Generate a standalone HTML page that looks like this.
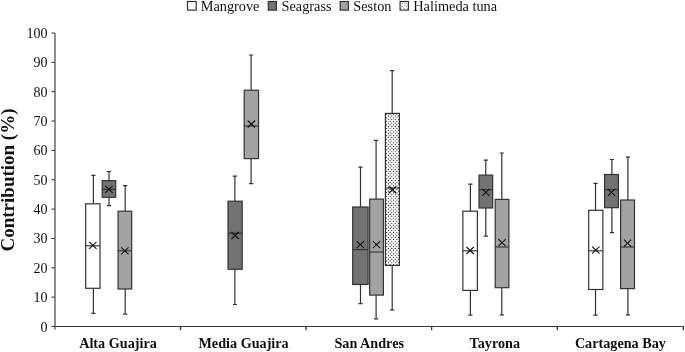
<!DOCTYPE html>
<html><head><meta charset="utf-8"><title>Contribution</title>
<style>
html,body{margin:0;padding:0;background:#fff;}
body{width:685px;height:352px;overflow:hidden;font-family:"Liberation Serif",serif;}
svg{display:block}
text{font-family:"Liberation Serif",serif;fill:#111}
.tick{font-size:14px;text-anchor:end}
.cat{font-size:14.2px;font-weight:bold;text-anchor:middle}
.leg{font-size:14.3px}
.yl{font-size:19px;font-weight:bold;text-anchor:middle}
</style></head><body>
<svg width="685" height="352" viewBox="0 0 685 352">
<rect width="685" height="352" fill="#fff"/>

<g stroke="#444" stroke-width="1.2" fill="none">
<path d="M55 33V329.5"/>
<path d="M51.4 326.5H683.9" stroke="#3a3a3a" stroke-width="1.1"/>
<path d="M51.4 297.15H55" stroke="#333" stroke-width="1"/>
<path d="M51.4 267.80H55" stroke="#333" stroke-width="1"/>
<path d="M51.4 238.45H55" stroke="#333" stroke-width="1"/>
<path d="M51.4 209.10H55" stroke="#333" stroke-width="1"/>
<path d="M51.4 179.75H55" stroke="#333" stroke-width="1"/>
<path d="M51.4 150.40H55" stroke="#333" stroke-width="1"/>
<path d="M51.4 121.05H55" stroke="#333" stroke-width="1"/>
<path d="M51.4 91.70H55" stroke="#333" stroke-width="1"/>
<path d="M51.4 62.35H55" stroke="#333" stroke-width="1"/>
<path d="M51.4 33.00H55" stroke="#333" stroke-width="1"/>
<path d="M180.5 326.5V330.2" stroke="#333" stroke-width="1.3"/>
<path d="M306.0 326.5V330.2" stroke="#333" stroke-width="1.3"/>
<path d="M431.6 326.5V330.2" stroke="#333" stroke-width="1.3"/>
<path d="M557.3 326.5V330.2" stroke="#333" stroke-width="1.3"/>
<path d="M683.3 326.5V330.2" stroke="#333" stroke-width="1.3"/>
</g>
<text class="tick" x="47.6" y="331.50">0</text>
<text class="tick" x="47.6" y="302.15">10</text>
<text class="tick" x="47.6" y="272.80">20</text>
<text class="tick" x="47.6" y="243.45">30</text>
<text class="tick" x="47.6" y="214.10">40</text>
<text class="tick" x="47.6" y="184.75">50</text>
<text class="tick" x="47.6" y="155.40">60</text>
<text class="tick" x="47.6" y="126.05">70</text>
<text class="tick" x="47.6" y="96.70">80</text>
<text class="tick" x="47.6" y="67.35">90</text>
<text class="tick" x="47.6" y="38.00">100</text>
<text class="cat" x="118.0" y="348">Alta Guajira</text>
<text class="cat" x="243.6" y="348">Media Guajira</text>
<text class="cat" x="369.2" y="348">San Andres</text>
<text class="cat" x="494.8" y="348">Tayrona</text>
<text class="cat" x="620.4" y="348">Cartagena Bay</text>
<text class="yl" transform="translate(13.7,180) rotate(-90)">Contribution (%)</text>
<rect x="187.50" y="1.50" width="8.70" height="8.60" fill="#ffffff" stroke="#333" stroke-width="1.2"/>
<text class="leg" x="200.7" y="11">Mangrove</text>
<rect x="268.30" y="1.50" width="8.15" height="8.60" fill="#727272" stroke="#333" stroke-width="1.2"/>
<text class="leg" x="281.5" y="11">Seagrass</text>
<rect x="340.20" y="1.50" width="8.25" height="8.60" fill="#a3a3a3" stroke="#333" stroke-width="1.2"/>
<text class="leg" x="353.3" y="11">Seston</text>
<rect x="400.10" y="1.50" width="8.35" height="8.60" fill="#ffffff" stroke="#333" stroke-width="1.2"/>
<path d="M401.94 3.39a0.5 0.5 0 1 0 1.0 0a0.5 0.5 0 1 0 -1.0 0zM405.61 3.39a0.5 0.5 0 1 0 1.0 0a0.5 0.5 0 1 0 -1.0 0zM403.78 5.11a0.5 0.5 0 1 0 1.0 0a0.5 0.5 0 1 0 -1.0 0zM401.94 6.83a0.5 0.5 0 1 0 1.0 0a0.5 0.5 0 1 0 -1.0 0zM405.61 6.83a0.5 0.5 0 1 0 1.0 0a0.5 0.5 0 1 0 -1.0 0zM403.78 8.55a0.5 0.5 0 1 0 1.0 0a0.5 0.5 0 1 0 -1.0 0zM403.78 1.93a0.5 0.5 0 1 0 1.0 0a0.5 0.5 0 1 0 -1.0 0zM400.27 5.11a0.5 0.5 0 1 0 1.0 0a0.5 0.5 0 1 0 -1.0 0zM407.28 5.11a0.5 0.5 0 1 0 1.0 0a0.5 0.5 0 1 0 -1.0 0zM400.27 8.55a0.5 0.5 0 1 0 1.0 0a0.5 0.5 0 1 0 -1.0 0zM407.28 8.55a0.5 0.5 0 1 0 1.0 0a0.5 0.5 0 1 0 -1.0 0z" fill="#555" stroke="none"/>
<text class="leg" x="413.3" y="11">Halimeda tuna</text>
<g stroke="#333" stroke-width="1.2" fill="none">
<path d="M93.4 175.3V203.8M93.4 288.3V313.3M91.3 175.3h4.2M91.3 313.3h4.2"/>
<rect x="85.67" y="203.8" width="14.33" height="84.5" fill="#ffffff" stroke-width="1.2"/>
<path d="M85.67 245.8h14.33" stroke-width="1.15"/>
<path d="M89.13 241.85l7.4 7M96.53 241.85l-7.4 7" stroke="#111" stroke-width="1.1"/>
</g>
<g stroke="#333" stroke-width="1.2" fill="none">
<path d="M109.0 171.5V180.6M109.0 197.4V205.6M106.9 171.5h4.2M106.9 205.6h4.2"/>
<rect x="102.20" y="180.6" width="13.50" height="16.7" fill="#727272" stroke-width="1.2"/>
<path d="M102.20 189.4h13.50" stroke-width="1.15"/>
<path d="M105.25 185.94l7.4 7M112.65 185.94l-7.4 7" stroke="#111" stroke-width="1.1"/>
</g>
<g stroke="#333" stroke-width="1.2" fill="none">
<path d="M125.2 185.6V211.2M125.2 288.9V314.2M123.1 185.6h4.2M123.1 314.2h4.2"/>
<rect x="118.05" y="211.2" width="13.65" height="77.8" fill="#a3a3a3" stroke-width="1.2"/>
<path d="M118.05 250.8h13.65" stroke-width="1.15"/>
<path d="M121.17 247.28l7.4 7M128.57 247.28l-7.4 7" stroke="#111" stroke-width="1.1"/>
</g>
<g stroke="#333" stroke-width="1.2" fill="none">
<path d="M234.9 176.2V201.2M234.9 269.3V304.5M232.8 176.2h4.2M232.8 304.5h4.2"/>
<rect x="228.00" y="201.2" width="14.20" height="68.1" fill="#727272" stroke-width="1.2"/>
<path d="M228.00 233.2h14.20" stroke-width="1.15"/>
<path d="M231.40 232.01l7.4 7M238.80 232.01l-7.4 7" stroke="#111" stroke-width="1.1"/>
</g>
<g stroke="#333" stroke-width="1.2" fill="none">
<path d="M251.1 55.0V90.2M251.1 158.6V183.6M249.0 55.0h4.2M249.0 183.6h4.2"/>
<rect x="244.20" y="90.2" width="14.35" height="68.4" fill="#a3a3a3" stroke-width="1.2"/>
<path d="M244.20 126.0h14.35" stroke-width="1.15"/>
<path d="M247.68 120.48l7.4 7M255.07 120.48l-7.4 7" stroke="#111" stroke-width="1.1"/>
</g>
<g stroke="#333" stroke-width="1.2" fill="none">
<path d="M360.5 167.1V207.0M360.5 284.5V303.6M358.4 167.1h4.2M358.4 303.6h4.2"/>
<rect x="352.70" y="207.0" width="15.40" height="77.5" fill="#727272" stroke-width="1.2"/>
<path d="M352.70 249.6h15.40" stroke-width="1.15"/>
<path d="M356.70 241.11l7.4 7M364.10 241.11l-7.4 7" stroke="#111" stroke-width="1.1"/>
</g>
<g stroke="#333" stroke-width="1.2" fill="none">
<path d="M376.1 140.4V199.1M376.1 295.1V318.9M374.0 140.4h4.2M374.0 318.9h4.2"/>
<rect x="369.70" y="199.1" width="13.70" height="96.0" fill="#a3a3a3" stroke-width="1.2"/>
<path d="M369.70 252.0h13.70" stroke-width="1.15"/>
<path d="M372.85 241.11l7.4 7M380.25 241.11l-7.4 7" stroke="#111" stroke-width="1.1"/>
</g>
<g stroke="#333" stroke-width="1.2" fill="none">
<path d="M392.2 70.6V113.4M392.2 265.5V309.8M390.1 70.6h4.2M390.1 309.8h4.2"/>
<rect x="385.40" y="113.4" width="14.00" height="152.0" fill="#fff" stroke="none"/>
<path d="M386.09 114.16a0.6 0.6 0 1 0 1.2 0a0.6 0.6 0 1 0 -1.2 0zM389.50 114.16a0.6 0.6 0 1 0 1.2 0a0.6 0.6 0 1 0 -1.2 0zM392.91 114.16a0.6 0.6 0 1 0 1.2 0a0.6 0.6 0 1 0 -1.2 0zM396.32 114.16a0.6 0.6 0 1 0 1.2 0a0.6 0.6 0 1 0 -1.2 0zM387.80 115.95a0.6 0.6 0 1 0 1.2 0a0.6 0.6 0 1 0 -1.2 0zM391.21 115.95a0.6 0.6 0 1 0 1.2 0a0.6 0.6 0 1 0 -1.2 0zM394.62 115.95a0.6 0.6 0 1 0 1.2 0a0.6 0.6 0 1 0 -1.2 0zM398.03 115.95a0.6 0.6 0 1 0 1.2 0a0.6 0.6 0 1 0 -1.2 0zM386.09 117.74a0.6 0.6 0 1 0 1.2 0a0.6 0.6 0 1 0 -1.2 0zM389.50 117.74a0.6 0.6 0 1 0 1.2 0a0.6 0.6 0 1 0 -1.2 0zM392.91 117.74a0.6 0.6 0 1 0 1.2 0a0.6 0.6 0 1 0 -1.2 0zM396.32 117.74a0.6 0.6 0 1 0 1.2 0a0.6 0.6 0 1 0 -1.2 0zM387.80 119.53a0.6 0.6 0 1 0 1.2 0a0.6 0.6 0 1 0 -1.2 0zM391.21 119.53a0.6 0.6 0 1 0 1.2 0a0.6 0.6 0 1 0 -1.2 0zM394.62 119.53a0.6 0.6 0 1 0 1.2 0a0.6 0.6 0 1 0 -1.2 0zM398.03 119.53a0.6 0.6 0 1 0 1.2 0a0.6 0.6 0 1 0 -1.2 0zM386.09 121.32a0.6 0.6 0 1 0 1.2 0a0.6 0.6 0 1 0 -1.2 0zM389.50 121.32a0.6 0.6 0 1 0 1.2 0a0.6 0.6 0 1 0 -1.2 0zM392.91 121.32a0.6 0.6 0 1 0 1.2 0a0.6 0.6 0 1 0 -1.2 0zM396.32 121.32a0.6 0.6 0 1 0 1.2 0a0.6 0.6 0 1 0 -1.2 0zM387.80 123.11a0.6 0.6 0 1 0 1.2 0a0.6 0.6 0 1 0 -1.2 0zM391.21 123.11a0.6 0.6 0 1 0 1.2 0a0.6 0.6 0 1 0 -1.2 0zM394.62 123.11a0.6 0.6 0 1 0 1.2 0a0.6 0.6 0 1 0 -1.2 0zM398.03 123.11a0.6 0.6 0 1 0 1.2 0a0.6 0.6 0 1 0 -1.2 0zM386.09 124.90a0.6 0.6 0 1 0 1.2 0a0.6 0.6 0 1 0 -1.2 0zM389.50 124.90a0.6 0.6 0 1 0 1.2 0a0.6 0.6 0 1 0 -1.2 0zM392.91 124.90a0.6 0.6 0 1 0 1.2 0a0.6 0.6 0 1 0 -1.2 0zM396.32 124.90a0.6 0.6 0 1 0 1.2 0a0.6 0.6 0 1 0 -1.2 0zM387.80 126.69a0.6 0.6 0 1 0 1.2 0a0.6 0.6 0 1 0 -1.2 0zM391.21 126.69a0.6 0.6 0 1 0 1.2 0a0.6 0.6 0 1 0 -1.2 0zM394.62 126.69a0.6 0.6 0 1 0 1.2 0a0.6 0.6 0 1 0 -1.2 0zM398.03 126.69a0.6 0.6 0 1 0 1.2 0a0.6 0.6 0 1 0 -1.2 0zM386.09 128.48a0.6 0.6 0 1 0 1.2 0a0.6 0.6 0 1 0 -1.2 0zM389.50 128.48a0.6 0.6 0 1 0 1.2 0a0.6 0.6 0 1 0 -1.2 0zM392.91 128.48a0.6 0.6 0 1 0 1.2 0a0.6 0.6 0 1 0 -1.2 0zM396.32 128.48a0.6 0.6 0 1 0 1.2 0a0.6 0.6 0 1 0 -1.2 0zM387.80 130.27a0.6 0.6 0 1 0 1.2 0a0.6 0.6 0 1 0 -1.2 0zM391.21 130.27a0.6 0.6 0 1 0 1.2 0a0.6 0.6 0 1 0 -1.2 0zM394.62 130.27a0.6 0.6 0 1 0 1.2 0a0.6 0.6 0 1 0 -1.2 0zM398.03 130.27a0.6 0.6 0 1 0 1.2 0a0.6 0.6 0 1 0 -1.2 0zM386.09 132.06a0.6 0.6 0 1 0 1.2 0a0.6 0.6 0 1 0 -1.2 0zM389.50 132.06a0.6 0.6 0 1 0 1.2 0a0.6 0.6 0 1 0 -1.2 0zM392.91 132.06a0.6 0.6 0 1 0 1.2 0a0.6 0.6 0 1 0 -1.2 0zM396.32 132.06a0.6 0.6 0 1 0 1.2 0a0.6 0.6 0 1 0 -1.2 0zM387.80 133.85a0.6 0.6 0 1 0 1.2 0a0.6 0.6 0 1 0 -1.2 0zM391.21 133.85a0.6 0.6 0 1 0 1.2 0a0.6 0.6 0 1 0 -1.2 0zM394.62 133.85a0.6 0.6 0 1 0 1.2 0a0.6 0.6 0 1 0 -1.2 0zM398.03 133.85a0.6 0.6 0 1 0 1.2 0a0.6 0.6 0 1 0 -1.2 0zM386.09 135.64a0.6 0.6 0 1 0 1.2 0a0.6 0.6 0 1 0 -1.2 0zM389.50 135.64a0.6 0.6 0 1 0 1.2 0a0.6 0.6 0 1 0 -1.2 0zM392.91 135.64a0.6 0.6 0 1 0 1.2 0a0.6 0.6 0 1 0 -1.2 0zM396.32 135.64a0.6 0.6 0 1 0 1.2 0a0.6 0.6 0 1 0 -1.2 0zM387.80 137.43a0.6 0.6 0 1 0 1.2 0a0.6 0.6 0 1 0 -1.2 0zM391.21 137.43a0.6 0.6 0 1 0 1.2 0a0.6 0.6 0 1 0 -1.2 0zM394.62 137.43a0.6 0.6 0 1 0 1.2 0a0.6 0.6 0 1 0 -1.2 0zM398.03 137.43a0.6 0.6 0 1 0 1.2 0a0.6 0.6 0 1 0 -1.2 0zM386.09 139.22a0.6 0.6 0 1 0 1.2 0a0.6 0.6 0 1 0 -1.2 0zM389.50 139.22a0.6 0.6 0 1 0 1.2 0a0.6 0.6 0 1 0 -1.2 0zM392.91 139.22a0.6 0.6 0 1 0 1.2 0a0.6 0.6 0 1 0 -1.2 0zM396.32 139.22a0.6 0.6 0 1 0 1.2 0a0.6 0.6 0 1 0 -1.2 0zM387.80 141.01a0.6 0.6 0 1 0 1.2 0a0.6 0.6 0 1 0 -1.2 0zM391.21 141.01a0.6 0.6 0 1 0 1.2 0a0.6 0.6 0 1 0 -1.2 0zM394.62 141.01a0.6 0.6 0 1 0 1.2 0a0.6 0.6 0 1 0 -1.2 0zM398.03 141.01a0.6 0.6 0 1 0 1.2 0a0.6 0.6 0 1 0 -1.2 0zM386.09 142.80a0.6 0.6 0 1 0 1.2 0a0.6 0.6 0 1 0 -1.2 0zM389.50 142.80a0.6 0.6 0 1 0 1.2 0a0.6 0.6 0 1 0 -1.2 0zM392.91 142.80a0.6 0.6 0 1 0 1.2 0a0.6 0.6 0 1 0 -1.2 0zM396.32 142.80a0.6 0.6 0 1 0 1.2 0a0.6 0.6 0 1 0 -1.2 0zM387.80 144.59a0.6 0.6 0 1 0 1.2 0a0.6 0.6 0 1 0 -1.2 0zM391.21 144.59a0.6 0.6 0 1 0 1.2 0a0.6 0.6 0 1 0 -1.2 0zM394.62 144.59a0.6 0.6 0 1 0 1.2 0a0.6 0.6 0 1 0 -1.2 0zM398.03 144.59a0.6 0.6 0 1 0 1.2 0a0.6 0.6 0 1 0 -1.2 0zM386.09 146.38a0.6 0.6 0 1 0 1.2 0a0.6 0.6 0 1 0 -1.2 0zM389.50 146.38a0.6 0.6 0 1 0 1.2 0a0.6 0.6 0 1 0 -1.2 0zM392.91 146.38a0.6 0.6 0 1 0 1.2 0a0.6 0.6 0 1 0 -1.2 0zM396.32 146.38a0.6 0.6 0 1 0 1.2 0a0.6 0.6 0 1 0 -1.2 0zM387.80 148.17a0.6 0.6 0 1 0 1.2 0a0.6 0.6 0 1 0 -1.2 0zM391.21 148.17a0.6 0.6 0 1 0 1.2 0a0.6 0.6 0 1 0 -1.2 0zM394.62 148.17a0.6 0.6 0 1 0 1.2 0a0.6 0.6 0 1 0 -1.2 0zM398.03 148.17a0.6 0.6 0 1 0 1.2 0a0.6 0.6 0 1 0 -1.2 0zM386.09 149.96a0.6 0.6 0 1 0 1.2 0a0.6 0.6 0 1 0 -1.2 0zM389.50 149.96a0.6 0.6 0 1 0 1.2 0a0.6 0.6 0 1 0 -1.2 0zM392.91 149.96a0.6 0.6 0 1 0 1.2 0a0.6 0.6 0 1 0 -1.2 0zM396.32 149.96a0.6 0.6 0 1 0 1.2 0a0.6 0.6 0 1 0 -1.2 0zM387.80 151.75a0.6 0.6 0 1 0 1.2 0a0.6 0.6 0 1 0 -1.2 0zM391.21 151.75a0.6 0.6 0 1 0 1.2 0a0.6 0.6 0 1 0 -1.2 0zM394.62 151.75a0.6 0.6 0 1 0 1.2 0a0.6 0.6 0 1 0 -1.2 0zM398.03 151.75a0.6 0.6 0 1 0 1.2 0a0.6 0.6 0 1 0 -1.2 0zM386.09 153.54a0.6 0.6 0 1 0 1.2 0a0.6 0.6 0 1 0 -1.2 0zM389.50 153.54a0.6 0.6 0 1 0 1.2 0a0.6 0.6 0 1 0 -1.2 0zM392.91 153.54a0.6 0.6 0 1 0 1.2 0a0.6 0.6 0 1 0 -1.2 0zM396.32 153.54a0.6 0.6 0 1 0 1.2 0a0.6 0.6 0 1 0 -1.2 0zM387.80 155.33a0.6 0.6 0 1 0 1.2 0a0.6 0.6 0 1 0 -1.2 0zM391.21 155.33a0.6 0.6 0 1 0 1.2 0a0.6 0.6 0 1 0 -1.2 0zM394.62 155.33a0.6 0.6 0 1 0 1.2 0a0.6 0.6 0 1 0 -1.2 0zM398.03 155.33a0.6 0.6 0 1 0 1.2 0a0.6 0.6 0 1 0 -1.2 0zM386.09 157.12a0.6 0.6 0 1 0 1.2 0a0.6 0.6 0 1 0 -1.2 0zM389.50 157.12a0.6 0.6 0 1 0 1.2 0a0.6 0.6 0 1 0 -1.2 0zM392.91 157.12a0.6 0.6 0 1 0 1.2 0a0.6 0.6 0 1 0 -1.2 0zM396.32 157.12a0.6 0.6 0 1 0 1.2 0a0.6 0.6 0 1 0 -1.2 0zM387.80 158.91a0.6 0.6 0 1 0 1.2 0a0.6 0.6 0 1 0 -1.2 0zM391.21 158.91a0.6 0.6 0 1 0 1.2 0a0.6 0.6 0 1 0 -1.2 0zM394.62 158.91a0.6 0.6 0 1 0 1.2 0a0.6 0.6 0 1 0 -1.2 0zM398.03 158.91a0.6 0.6 0 1 0 1.2 0a0.6 0.6 0 1 0 -1.2 0zM386.09 160.70a0.6 0.6 0 1 0 1.2 0a0.6 0.6 0 1 0 -1.2 0zM389.50 160.70a0.6 0.6 0 1 0 1.2 0a0.6 0.6 0 1 0 -1.2 0zM392.91 160.70a0.6 0.6 0 1 0 1.2 0a0.6 0.6 0 1 0 -1.2 0zM396.32 160.70a0.6 0.6 0 1 0 1.2 0a0.6 0.6 0 1 0 -1.2 0zM387.80 162.49a0.6 0.6 0 1 0 1.2 0a0.6 0.6 0 1 0 -1.2 0zM391.21 162.49a0.6 0.6 0 1 0 1.2 0a0.6 0.6 0 1 0 -1.2 0zM394.62 162.49a0.6 0.6 0 1 0 1.2 0a0.6 0.6 0 1 0 -1.2 0zM398.03 162.49a0.6 0.6 0 1 0 1.2 0a0.6 0.6 0 1 0 -1.2 0zM386.09 164.28a0.6 0.6 0 1 0 1.2 0a0.6 0.6 0 1 0 -1.2 0zM389.50 164.28a0.6 0.6 0 1 0 1.2 0a0.6 0.6 0 1 0 -1.2 0zM392.91 164.28a0.6 0.6 0 1 0 1.2 0a0.6 0.6 0 1 0 -1.2 0zM396.32 164.28a0.6 0.6 0 1 0 1.2 0a0.6 0.6 0 1 0 -1.2 0zM387.80 166.07a0.6 0.6 0 1 0 1.2 0a0.6 0.6 0 1 0 -1.2 0zM391.21 166.07a0.6 0.6 0 1 0 1.2 0a0.6 0.6 0 1 0 -1.2 0zM394.62 166.07a0.6 0.6 0 1 0 1.2 0a0.6 0.6 0 1 0 -1.2 0zM398.03 166.07a0.6 0.6 0 1 0 1.2 0a0.6 0.6 0 1 0 -1.2 0zM386.09 167.86a0.6 0.6 0 1 0 1.2 0a0.6 0.6 0 1 0 -1.2 0zM389.50 167.86a0.6 0.6 0 1 0 1.2 0a0.6 0.6 0 1 0 -1.2 0zM392.91 167.86a0.6 0.6 0 1 0 1.2 0a0.6 0.6 0 1 0 -1.2 0zM396.32 167.86a0.6 0.6 0 1 0 1.2 0a0.6 0.6 0 1 0 -1.2 0zM387.80 169.65a0.6 0.6 0 1 0 1.2 0a0.6 0.6 0 1 0 -1.2 0zM391.21 169.65a0.6 0.6 0 1 0 1.2 0a0.6 0.6 0 1 0 -1.2 0zM394.62 169.65a0.6 0.6 0 1 0 1.2 0a0.6 0.6 0 1 0 -1.2 0zM398.03 169.65a0.6 0.6 0 1 0 1.2 0a0.6 0.6 0 1 0 -1.2 0zM386.09 171.44a0.6 0.6 0 1 0 1.2 0a0.6 0.6 0 1 0 -1.2 0zM389.50 171.44a0.6 0.6 0 1 0 1.2 0a0.6 0.6 0 1 0 -1.2 0zM392.91 171.44a0.6 0.6 0 1 0 1.2 0a0.6 0.6 0 1 0 -1.2 0zM396.32 171.44a0.6 0.6 0 1 0 1.2 0a0.6 0.6 0 1 0 -1.2 0zM387.80 173.23a0.6 0.6 0 1 0 1.2 0a0.6 0.6 0 1 0 -1.2 0zM391.21 173.23a0.6 0.6 0 1 0 1.2 0a0.6 0.6 0 1 0 -1.2 0zM394.62 173.23a0.6 0.6 0 1 0 1.2 0a0.6 0.6 0 1 0 -1.2 0zM398.03 173.23a0.6 0.6 0 1 0 1.2 0a0.6 0.6 0 1 0 -1.2 0zM386.09 175.02a0.6 0.6 0 1 0 1.2 0a0.6 0.6 0 1 0 -1.2 0zM389.50 175.02a0.6 0.6 0 1 0 1.2 0a0.6 0.6 0 1 0 -1.2 0zM392.91 175.02a0.6 0.6 0 1 0 1.2 0a0.6 0.6 0 1 0 -1.2 0zM396.32 175.02a0.6 0.6 0 1 0 1.2 0a0.6 0.6 0 1 0 -1.2 0zM387.80 176.81a0.6 0.6 0 1 0 1.2 0a0.6 0.6 0 1 0 -1.2 0zM391.21 176.81a0.6 0.6 0 1 0 1.2 0a0.6 0.6 0 1 0 -1.2 0zM394.62 176.81a0.6 0.6 0 1 0 1.2 0a0.6 0.6 0 1 0 -1.2 0zM398.03 176.81a0.6 0.6 0 1 0 1.2 0a0.6 0.6 0 1 0 -1.2 0zM386.09 178.60a0.6 0.6 0 1 0 1.2 0a0.6 0.6 0 1 0 -1.2 0zM389.50 178.60a0.6 0.6 0 1 0 1.2 0a0.6 0.6 0 1 0 -1.2 0zM392.91 178.60a0.6 0.6 0 1 0 1.2 0a0.6 0.6 0 1 0 -1.2 0zM396.32 178.60a0.6 0.6 0 1 0 1.2 0a0.6 0.6 0 1 0 -1.2 0zM387.80 180.39a0.6 0.6 0 1 0 1.2 0a0.6 0.6 0 1 0 -1.2 0zM391.21 180.39a0.6 0.6 0 1 0 1.2 0a0.6 0.6 0 1 0 -1.2 0zM394.62 180.39a0.6 0.6 0 1 0 1.2 0a0.6 0.6 0 1 0 -1.2 0zM398.03 180.39a0.6 0.6 0 1 0 1.2 0a0.6 0.6 0 1 0 -1.2 0zM386.09 182.18a0.6 0.6 0 1 0 1.2 0a0.6 0.6 0 1 0 -1.2 0zM389.50 182.18a0.6 0.6 0 1 0 1.2 0a0.6 0.6 0 1 0 -1.2 0zM392.91 182.18a0.6 0.6 0 1 0 1.2 0a0.6 0.6 0 1 0 -1.2 0zM396.32 182.18a0.6 0.6 0 1 0 1.2 0a0.6 0.6 0 1 0 -1.2 0zM387.80 183.97a0.6 0.6 0 1 0 1.2 0a0.6 0.6 0 1 0 -1.2 0zM391.21 183.97a0.6 0.6 0 1 0 1.2 0a0.6 0.6 0 1 0 -1.2 0zM394.62 183.97a0.6 0.6 0 1 0 1.2 0a0.6 0.6 0 1 0 -1.2 0zM398.03 183.97a0.6 0.6 0 1 0 1.2 0a0.6 0.6 0 1 0 -1.2 0zM386.09 185.76a0.6 0.6 0 1 0 1.2 0a0.6 0.6 0 1 0 -1.2 0zM389.50 185.76a0.6 0.6 0 1 0 1.2 0a0.6 0.6 0 1 0 -1.2 0zM392.91 185.76a0.6 0.6 0 1 0 1.2 0a0.6 0.6 0 1 0 -1.2 0zM396.32 185.76a0.6 0.6 0 1 0 1.2 0a0.6 0.6 0 1 0 -1.2 0zM387.80 187.55a0.6 0.6 0 1 0 1.2 0a0.6 0.6 0 1 0 -1.2 0zM391.21 187.55a0.6 0.6 0 1 0 1.2 0a0.6 0.6 0 1 0 -1.2 0zM394.62 187.55a0.6 0.6 0 1 0 1.2 0a0.6 0.6 0 1 0 -1.2 0zM398.03 187.55a0.6 0.6 0 1 0 1.2 0a0.6 0.6 0 1 0 -1.2 0zM386.09 189.34a0.6 0.6 0 1 0 1.2 0a0.6 0.6 0 1 0 -1.2 0zM389.50 189.34a0.6 0.6 0 1 0 1.2 0a0.6 0.6 0 1 0 -1.2 0zM392.91 189.34a0.6 0.6 0 1 0 1.2 0a0.6 0.6 0 1 0 -1.2 0zM396.32 189.34a0.6 0.6 0 1 0 1.2 0a0.6 0.6 0 1 0 -1.2 0zM387.80 191.13a0.6 0.6 0 1 0 1.2 0a0.6 0.6 0 1 0 -1.2 0zM391.21 191.13a0.6 0.6 0 1 0 1.2 0a0.6 0.6 0 1 0 -1.2 0zM394.62 191.13a0.6 0.6 0 1 0 1.2 0a0.6 0.6 0 1 0 -1.2 0zM398.03 191.13a0.6 0.6 0 1 0 1.2 0a0.6 0.6 0 1 0 -1.2 0zM386.09 192.92a0.6 0.6 0 1 0 1.2 0a0.6 0.6 0 1 0 -1.2 0zM389.50 192.92a0.6 0.6 0 1 0 1.2 0a0.6 0.6 0 1 0 -1.2 0zM392.91 192.92a0.6 0.6 0 1 0 1.2 0a0.6 0.6 0 1 0 -1.2 0zM396.32 192.92a0.6 0.6 0 1 0 1.2 0a0.6 0.6 0 1 0 -1.2 0zM387.80 194.71a0.6 0.6 0 1 0 1.2 0a0.6 0.6 0 1 0 -1.2 0zM391.21 194.71a0.6 0.6 0 1 0 1.2 0a0.6 0.6 0 1 0 -1.2 0zM394.62 194.71a0.6 0.6 0 1 0 1.2 0a0.6 0.6 0 1 0 -1.2 0zM398.03 194.71a0.6 0.6 0 1 0 1.2 0a0.6 0.6 0 1 0 -1.2 0zM386.09 196.50a0.6 0.6 0 1 0 1.2 0a0.6 0.6 0 1 0 -1.2 0zM389.50 196.50a0.6 0.6 0 1 0 1.2 0a0.6 0.6 0 1 0 -1.2 0zM392.91 196.50a0.6 0.6 0 1 0 1.2 0a0.6 0.6 0 1 0 -1.2 0zM396.32 196.50a0.6 0.6 0 1 0 1.2 0a0.6 0.6 0 1 0 -1.2 0zM387.80 198.29a0.6 0.6 0 1 0 1.2 0a0.6 0.6 0 1 0 -1.2 0zM391.21 198.29a0.6 0.6 0 1 0 1.2 0a0.6 0.6 0 1 0 -1.2 0zM394.62 198.29a0.6 0.6 0 1 0 1.2 0a0.6 0.6 0 1 0 -1.2 0zM398.03 198.29a0.6 0.6 0 1 0 1.2 0a0.6 0.6 0 1 0 -1.2 0zM386.09 200.08a0.6 0.6 0 1 0 1.2 0a0.6 0.6 0 1 0 -1.2 0zM389.50 200.08a0.6 0.6 0 1 0 1.2 0a0.6 0.6 0 1 0 -1.2 0zM392.91 200.08a0.6 0.6 0 1 0 1.2 0a0.6 0.6 0 1 0 -1.2 0zM396.32 200.08a0.6 0.6 0 1 0 1.2 0a0.6 0.6 0 1 0 -1.2 0zM387.80 201.87a0.6 0.6 0 1 0 1.2 0a0.6 0.6 0 1 0 -1.2 0zM391.21 201.87a0.6 0.6 0 1 0 1.2 0a0.6 0.6 0 1 0 -1.2 0zM394.62 201.87a0.6 0.6 0 1 0 1.2 0a0.6 0.6 0 1 0 -1.2 0zM398.03 201.87a0.6 0.6 0 1 0 1.2 0a0.6 0.6 0 1 0 -1.2 0zM386.09 203.66a0.6 0.6 0 1 0 1.2 0a0.6 0.6 0 1 0 -1.2 0zM389.50 203.66a0.6 0.6 0 1 0 1.2 0a0.6 0.6 0 1 0 -1.2 0zM392.91 203.66a0.6 0.6 0 1 0 1.2 0a0.6 0.6 0 1 0 -1.2 0zM396.32 203.66a0.6 0.6 0 1 0 1.2 0a0.6 0.6 0 1 0 -1.2 0zM387.80 205.45a0.6 0.6 0 1 0 1.2 0a0.6 0.6 0 1 0 -1.2 0zM391.21 205.45a0.6 0.6 0 1 0 1.2 0a0.6 0.6 0 1 0 -1.2 0zM394.62 205.45a0.6 0.6 0 1 0 1.2 0a0.6 0.6 0 1 0 -1.2 0zM398.03 205.45a0.6 0.6 0 1 0 1.2 0a0.6 0.6 0 1 0 -1.2 0zM386.09 207.24a0.6 0.6 0 1 0 1.2 0a0.6 0.6 0 1 0 -1.2 0zM389.50 207.24a0.6 0.6 0 1 0 1.2 0a0.6 0.6 0 1 0 -1.2 0zM392.91 207.24a0.6 0.6 0 1 0 1.2 0a0.6 0.6 0 1 0 -1.2 0zM396.32 207.24a0.6 0.6 0 1 0 1.2 0a0.6 0.6 0 1 0 -1.2 0zM387.80 209.03a0.6 0.6 0 1 0 1.2 0a0.6 0.6 0 1 0 -1.2 0zM391.21 209.03a0.6 0.6 0 1 0 1.2 0a0.6 0.6 0 1 0 -1.2 0zM394.62 209.03a0.6 0.6 0 1 0 1.2 0a0.6 0.6 0 1 0 -1.2 0zM398.03 209.03a0.6 0.6 0 1 0 1.2 0a0.6 0.6 0 1 0 -1.2 0zM386.09 210.82a0.6 0.6 0 1 0 1.2 0a0.6 0.6 0 1 0 -1.2 0zM389.50 210.82a0.6 0.6 0 1 0 1.2 0a0.6 0.6 0 1 0 -1.2 0zM392.91 210.82a0.6 0.6 0 1 0 1.2 0a0.6 0.6 0 1 0 -1.2 0zM396.32 210.82a0.6 0.6 0 1 0 1.2 0a0.6 0.6 0 1 0 -1.2 0zM387.80 212.61a0.6 0.6 0 1 0 1.2 0a0.6 0.6 0 1 0 -1.2 0zM391.21 212.61a0.6 0.6 0 1 0 1.2 0a0.6 0.6 0 1 0 -1.2 0zM394.62 212.61a0.6 0.6 0 1 0 1.2 0a0.6 0.6 0 1 0 -1.2 0zM398.03 212.61a0.6 0.6 0 1 0 1.2 0a0.6 0.6 0 1 0 -1.2 0zM386.09 214.40a0.6 0.6 0 1 0 1.2 0a0.6 0.6 0 1 0 -1.2 0zM389.50 214.40a0.6 0.6 0 1 0 1.2 0a0.6 0.6 0 1 0 -1.2 0zM392.91 214.40a0.6 0.6 0 1 0 1.2 0a0.6 0.6 0 1 0 -1.2 0zM396.32 214.40a0.6 0.6 0 1 0 1.2 0a0.6 0.6 0 1 0 -1.2 0zM387.80 216.19a0.6 0.6 0 1 0 1.2 0a0.6 0.6 0 1 0 -1.2 0zM391.21 216.19a0.6 0.6 0 1 0 1.2 0a0.6 0.6 0 1 0 -1.2 0zM394.62 216.19a0.6 0.6 0 1 0 1.2 0a0.6 0.6 0 1 0 -1.2 0zM398.03 216.19a0.6 0.6 0 1 0 1.2 0a0.6 0.6 0 1 0 -1.2 0zM386.09 217.98a0.6 0.6 0 1 0 1.2 0a0.6 0.6 0 1 0 -1.2 0zM389.50 217.98a0.6 0.6 0 1 0 1.2 0a0.6 0.6 0 1 0 -1.2 0zM392.91 217.98a0.6 0.6 0 1 0 1.2 0a0.6 0.6 0 1 0 -1.2 0zM396.32 217.98a0.6 0.6 0 1 0 1.2 0a0.6 0.6 0 1 0 -1.2 0zM387.80 219.77a0.6 0.6 0 1 0 1.2 0a0.6 0.6 0 1 0 -1.2 0zM391.21 219.77a0.6 0.6 0 1 0 1.2 0a0.6 0.6 0 1 0 -1.2 0zM394.62 219.77a0.6 0.6 0 1 0 1.2 0a0.6 0.6 0 1 0 -1.2 0zM398.03 219.77a0.6 0.6 0 1 0 1.2 0a0.6 0.6 0 1 0 -1.2 0zM386.09 221.56a0.6 0.6 0 1 0 1.2 0a0.6 0.6 0 1 0 -1.2 0zM389.50 221.56a0.6 0.6 0 1 0 1.2 0a0.6 0.6 0 1 0 -1.2 0zM392.91 221.56a0.6 0.6 0 1 0 1.2 0a0.6 0.6 0 1 0 -1.2 0zM396.32 221.56a0.6 0.6 0 1 0 1.2 0a0.6 0.6 0 1 0 -1.2 0zM387.80 223.35a0.6 0.6 0 1 0 1.2 0a0.6 0.6 0 1 0 -1.2 0zM391.21 223.35a0.6 0.6 0 1 0 1.2 0a0.6 0.6 0 1 0 -1.2 0zM394.62 223.35a0.6 0.6 0 1 0 1.2 0a0.6 0.6 0 1 0 -1.2 0zM398.03 223.35a0.6 0.6 0 1 0 1.2 0a0.6 0.6 0 1 0 -1.2 0zM386.09 225.14a0.6 0.6 0 1 0 1.2 0a0.6 0.6 0 1 0 -1.2 0zM389.50 225.14a0.6 0.6 0 1 0 1.2 0a0.6 0.6 0 1 0 -1.2 0zM392.91 225.14a0.6 0.6 0 1 0 1.2 0a0.6 0.6 0 1 0 -1.2 0zM396.32 225.14a0.6 0.6 0 1 0 1.2 0a0.6 0.6 0 1 0 -1.2 0zM387.80 226.93a0.6 0.6 0 1 0 1.2 0a0.6 0.6 0 1 0 -1.2 0zM391.21 226.93a0.6 0.6 0 1 0 1.2 0a0.6 0.6 0 1 0 -1.2 0zM394.62 226.93a0.6 0.6 0 1 0 1.2 0a0.6 0.6 0 1 0 -1.2 0zM398.03 226.93a0.6 0.6 0 1 0 1.2 0a0.6 0.6 0 1 0 -1.2 0zM386.09 228.72a0.6 0.6 0 1 0 1.2 0a0.6 0.6 0 1 0 -1.2 0zM389.50 228.72a0.6 0.6 0 1 0 1.2 0a0.6 0.6 0 1 0 -1.2 0zM392.91 228.72a0.6 0.6 0 1 0 1.2 0a0.6 0.6 0 1 0 -1.2 0zM396.32 228.72a0.6 0.6 0 1 0 1.2 0a0.6 0.6 0 1 0 -1.2 0zM387.80 230.51a0.6 0.6 0 1 0 1.2 0a0.6 0.6 0 1 0 -1.2 0zM391.21 230.51a0.6 0.6 0 1 0 1.2 0a0.6 0.6 0 1 0 -1.2 0zM394.62 230.51a0.6 0.6 0 1 0 1.2 0a0.6 0.6 0 1 0 -1.2 0zM398.03 230.51a0.6 0.6 0 1 0 1.2 0a0.6 0.6 0 1 0 -1.2 0zM386.09 232.30a0.6 0.6 0 1 0 1.2 0a0.6 0.6 0 1 0 -1.2 0zM389.50 232.30a0.6 0.6 0 1 0 1.2 0a0.6 0.6 0 1 0 -1.2 0zM392.91 232.30a0.6 0.6 0 1 0 1.2 0a0.6 0.6 0 1 0 -1.2 0zM396.32 232.30a0.6 0.6 0 1 0 1.2 0a0.6 0.6 0 1 0 -1.2 0zM387.80 234.09a0.6 0.6 0 1 0 1.2 0a0.6 0.6 0 1 0 -1.2 0zM391.21 234.09a0.6 0.6 0 1 0 1.2 0a0.6 0.6 0 1 0 -1.2 0zM394.62 234.09a0.6 0.6 0 1 0 1.2 0a0.6 0.6 0 1 0 -1.2 0zM398.03 234.09a0.6 0.6 0 1 0 1.2 0a0.6 0.6 0 1 0 -1.2 0zM386.09 235.88a0.6 0.6 0 1 0 1.2 0a0.6 0.6 0 1 0 -1.2 0zM389.50 235.88a0.6 0.6 0 1 0 1.2 0a0.6 0.6 0 1 0 -1.2 0zM392.91 235.88a0.6 0.6 0 1 0 1.2 0a0.6 0.6 0 1 0 -1.2 0zM396.32 235.88a0.6 0.6 0 1 0 1.2 0a0.6 0.6 0 1 0 -1.2 0zM387.80 237.67a0.6 0.6 0 1 0 1.2 0a0.6 0.6 0 1 0 -1.2 0zM391.21 237.67a0.6 0.6 0 1 0 1.2 0a0.6 0.6 0 1 0 -1.2 0zM394.62 237.67a0.6 0.6 0 1 0 1.2 0a0.6 0.6 0 1 0 -1.2 0zM398.03 237.67a0.6 0.6 0 1 0 1.2 0a0.6 0.6 0 1 0 -1.2 0zM386.09 239.46a0.6 0.6 0 1 0 1.2 0a0.6 0.6 0 1 0 -1.2 0zM389.50 239.46a0.6 0.6 0 1 0 1.2 0a0.6 0.6 0 1 0 -1.2 0zM392.91 239.46a0.6 0.6 0 1 0 1.2 0a0.6 0.6 0 1 0 -1.2 0zM396.32 239.46a0.6 0.6 0 1 0 1.2 0a0.6 0.6 0 1 0 -1.2 0zM387.80 241.25a0.6 0.6 0 1 0 1.2 0a0.6 0.6 0 1 0 -1.2 0zM391.21 241.25a0.6 0.6 0 1 0 1.2 0a0.6 0.6 0 1 0 -1.2 0zM394.62 241.25a0.6 0.6 0 1 0 1.2 0a0.6 0.6 0 1 0 -1.2 0zM398.03 241.25a0.6 0.6 0 1 0 1.2 0a0.6 0.6 0 1 0 -1.2 0zM386.09 243.04a0.6 0.6 0 1 0 1.2 0a0.6 0.6 0 1 0 -1.2 0zM389.50 243.04a0.6 0.6 0 1 0 1.2 0a0.6 0.6 0 1 0 -1.2 0zM392.91 243.04a0.6 0.6 0 1 0 1.2 0a0.6 0.6 0 1 0 -1.2 0zM396.32 243.04a0.6 0.6 0 1 0 1.2 0a0.6 0.6 0 1 0 -1.2 0zM387.80 244.83a0.6 0.6 0 1 0 1.2 0a0.6 0.6 0 1 0 -1.2 0zM391.21 244.83a0.6 0.6 0 1 0 1.2 0a0.6 0.6 0 1 0 -1.2 0zM394.62 244.83a0.6 0.6 0 1 0 1.2 0a0.6 0.6 0 1 0 -1.2 0zM398.03 244.83a0.6 0.6 0 1 0 1.2 0a0.6 0.6 0 1 0 -1.2 0zM386.09 246.62a0.6 0.6 0 1 0 1.2 0a0.6 0.6 0 1 0 -1.2 0zM389.50 246.62a0.6 0.6 0 1 0 1.2 0a0.6 0.6 0 1 0 -1.2 0zM392.91 246.62a0.6 0.6 0 1 0 1.2 0a0.6 0.6 0 1 0 -1.2 0zM396.32 246.62a0.6 0.6 0 1 0 1.2 0a0.6 0.6 0 1 0 -1.2 0zM387.80 248.41a0.6 0.6 0 1 0 1.2 0a0.6 0.6 0 1 0 -1.2 0zM391.21 248.41a0.6 0.6 0 1 0 1.2 0a0.6 0.6 0 1 0 -1.2 0zM394.62 248.41a0.6 0.6 0 1 0 1.2 0a0.6 0.6 0 1 0 -1.2 0zM398.03 248.41a0.6 0.6 0 1 0 1.2 0a0.6 0.6 0 1 0 -1.2 0zM386.09 250.20a0.6 0.6 0 1 0 1.2 0a0.6 0.6 0 1 0 -1.2 0zM389.50 250.20a0.6 0.6 0 1 0 1.2 0a0.6 0.6 0 1 0 -1.2 0zM392.91 250.20a0.6 0.6 0 1 0 1.2 0a0.6 0.6 0 1 0 -1.2 0zM396.32 250.20a0.6 0.6 0 1 0 1.2 0a0.6 0.6 0 1 0 -1.2 0zM387.80 251.99a0.6 0.6 0 1 0 1.2 0a0.6 0.6 0 1 0 -1.2 0zM391.21 251.99a0.6 0.6 0 1 0 1.2 0a0.6 0.6 0 1 0 -1.2 0zM394.62 251.99a0.6 0.6 0 1 0 1.2 0a0.6 0.6 0 1 0 -1.2 0zM398.03 251.99a0.6 0.6 0 1 0 1.2 0a0.6 0.6 0 1 0 -1.2 0zM386.09 253.78a0.6 0.6 0 1 0 1.2 0a0.6 0.6 0 1 0 -1.2 0zM389.50 253.78a0.6 0.6 0 1 0 1.2 0a0.6 0.6 0 1 0 -1.2 0zM392.91 253.78a0.6 0.6 0 1 0 1.2 0a0.6 0.6 0 1 0 -1.2 0zM396.32 253.78a0.6 0.6 0 1 0 1.2 0a0.6 0.6 0 1 0 -1.2 0zM387.80 255.57a0.6 0.6 0 1 0 1.2 0a0.6 0.6 0 1 0 -1.2 0zM391.21 255.57a0.6 0.6 0 1 0 1.2 0a0.6 0.6 0 1 0 -1.2 0zM394.62 255.57a0.6 0.6 0 1 0 1.2 0a0.6 0.6 0 1 0 -1.2 0zM398.03 255.57a0.6 0.6 0 1 0 1.2 0a0.6 0.6 0 1 0 -1.2 0zM386.09 257.36a0.6 0.6 0 1 0 1.2 0a0.6 0.6 0 1 0 -1.2 0zM389.50 257.36a0.6 0.6 0 1 0 1.2 0a0.6 0.6 0 1 0 -1.2 0zM392.91 257.36a0.6 0.6 0 1 0 1.2 0a0.6 0.6 0 1 0 -1.2 0zM396.32 257.36a0.6 0.6 0 1 0 1.2 0a0.6 0.6 0 1 0 -1.2 0zM387.80 259.15a0.6 0.6 0 1 0 1.2 0a0.6 0.6 0 1 0 -1.2 0zM391.21 259.15a0.6 0.6 0 1 0 1.2 0a0.6 0.6 0 1 0 -1.2 0zM394.62 259.15a0.6 0.6 0 1 0 1.2 0a0.6 0.6 0 1 0 -1.2 0zM398.03 259.15a0.6 0.6 0 1 0 1.2 0a0.6 0.6 0 1 0 -1.2 0zM386.09 260.94a0.6 0.6 0 1 0 1.2 0a0.6 0.6 0 1 0 -1.2 0zM389.50 260.94a0.6 0.6 0 1 0 1.2 0a0.6 0.6 0 1 0 -1.2 0zM392.91 260.94a0.6 0.6 0 1 0 1.2 0a0.6 0.6 0 1 0 -1.2 0zM396.32 260.94a0.6 0.6 0 1 0 1.2 0a0.6 0.6 0 1 0 -1.2 0zM387.80 262.73a0.6 0.6 0 1 0 1.2 0a0.6 0.6 0 1 0 -1.2 0zM391.21 262.73a0.6 0.6 0 1 0 1.2 0a0.6 0.6 0 1 0 -1.2 0zM394.62 262.73a0.6 0.6 0 1 0 1.2 0a0.6 0.6 0 1 0 -1.2 0zM398.03 262.73a0.6 0.6 0 1 0 1.2 0a0.6 0.6 0 1 0 -1.2 0zM386.09 264.52a0.6 0.6 0 1 0 1.2 0a0.6 0.6 0 1 0 -1.2 0zM389.50 264.52a0.6 0.6 0 1 0 1.2 0a0.6 0.6 0 1 0 -1.2 0zM392.91 264.52a0.6 0.6 0 1 0 1.2 0a0.6 0.6 0 1 0 -1.2 0zM396.32 264.52a0.6 0.6 0 1 0 1.2 0a0.6 0.6 0 1 0 -1.2 0z" fill="#111" stroke="none"/>
<rect x="385.40" y="113.4" width="14.00" height="152.0" fill="none" stroke-width="1.2"/>
<path d="M385.40 188.0h14.00" stroke-width="1.15"/>
<path d="M388.70 186.23l7.4 7M396.10 186.23l-7.4 7" stroke="#111" stroke-width="1.1"/>
</g>
<g stroke="#333" stroke-width="1.2" fill="none">
<path d="M470.4 184.2V211.2M470.4 290.4V315.1M468.3 184.2h4.2M468.3 315.1h4.2"/>
<rect x="462.85" y="211.2" width="14.55" height="79.2" fill="#ffffff" stroke-width="1.2"/>
<path d="M462.85 250.8h14.55" stroke-width="1.15"/>
<path d="M466.43 246.98l7.4 7M473.82 246.98l-7.4 7" stroke="#111" stroke-width="1.1"/>
</g>
<g stroke="#333" stroke-width="1.2" fill="none">
<path d="M485.8 160.1V175.1M485.8 207.9V236.1M483.7 160.1h4.2M483.7 236.1h4.2"/>
<rect x="479.00" y="175.1" width="13.70" height="32.9" fill="#727272" stroke-width="1.2"/>
<path d="M479.00 189.7h13.70" stroke-width="1.15"/>
<path d="M482.15 188.87l7.4 7M489.55 188.87l-7.4 7" stroke="#111" stroke-width="1.1"/>
</g>
<g stroke="#333" stroke-width="1.2" fill="none">
<path d="M501.8 153.0V199.4M501.8 287.8V314.8M499.7 153.0h4.2M499.7 314.8h4.2"/>
<rect x="495.20" y="199.4" width="13.70" height="88.3" fill="#a3a3a3" stroke-width="1.2"/>
<path d="M495.20 247.0h13.70" stroke-width="1.15"/>
<path d="M498.35 239.06l7.4 7M505.75 239.06l-7.4 7" stroke="#111" stroke-width="1.1"/>
</g>
<g stroke="#333" stroke-width="1.2" fill="none">
<path d="M595.5 183.3V210.3M595.5 289.5V315.1M593.4 183.3h4.2M593.4 315.1h4.2"/>
<rect x="588.70" y="210.3" width="14.20" height="79.2" fill="#ffffff" stroke-width="1.2"/>
<path d="M588.70 250.8h14.20" stroke-width="1.15"/>
<path d="M592.10 246.69l7.4 7M599.50 246.69l-7.4 7" stroke="#111" stroke-width="1.1"/>
</g>
<g stroke="#333" stroke-width="1.2" fill="none">
<path d="M611.9 159.5V174.5M611.9 207.6V232.6M609.8 159.5h4.2M609.8 232.6h4.2"/>
<rect x="604.60" y="174.5" width="13.80" height="33.2" fill="#727272" stroke-width="1.2"/>
<path d="M604.60 189.7h13.80" stroke-width="1.15"/>
<path d="M607.80 188.87l7.4 7M615.20 188.87l-7.4 7" stroke="#111" stroke-width="1.1"/>
</g>
<g stroke="#333" stroke-width="1.2" fill="none">
<path d="M627.9 157.2V200.0M627.9 288.6V314.8M625.8 157.2h4.2M625.8 314.8h4.2"/>
<rect x="620.60" y="200.0" width="13.90" height="88.6" fill="#a3a3a3" stroke-width="1.2"/>
<path d="M620.60 247.0h13.90" stroke-width="1.15"/>
<path d="M623.85 239.65l7.4 7M631.25 239.65l-7.4 7" stroke="#111" stroke-width="1.1"/>
</g>
</svg></body></html>
